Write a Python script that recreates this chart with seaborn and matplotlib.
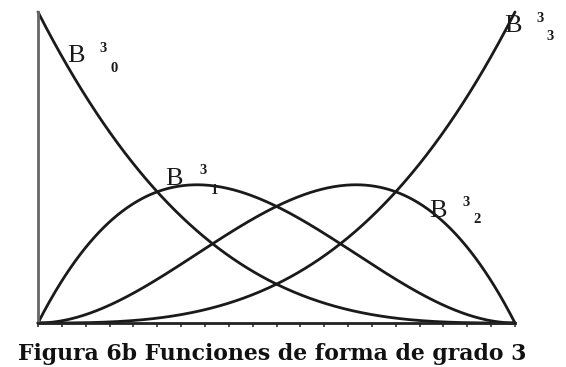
import numpy as np
import pandas as pd
import seaborn as sns
import matplotlib
matplotlib.use("Agg")
import matplotlib.pyplot as plt

# Cubic Bernstein basis, written as power-basis coefficients (constant term first)
b30_coef = [1, -3, 3, -1]   # (1-t)^3
b31_coef = [0, 3, -6, 3]    # 3t(1-t)^2
b32_coef = [0, 0, 3, -3]    # 3t^2(1-t)
b33_coef = [0, 0, 0, 1]     # t^3
curve_names = ["B30", "B31", "B32", "B33"]
curve_coefs = [b30_coef, b31_coef, b32_coef, b33_coef]

caption = "Figura 6b Funciones de forma de grado 3"
tick_step = 0.05

t = np.linspace(0.0, 1.0, 401)
frames = []
for name, coef in zip(curve_names, curve_coefs):
    frames.append(pd.DataFrame({"t": t,
                                "B": np.polynomial.polynomial.polyval(t, coef),
                                "curve": name}))
df = pd.concat(frames, ignore_index=True)

sns.set_theme(style="white")
W, H = 566, 367
fig = plt.figure(figsize=(W / 100, H / 100), dpi=100)
ax = fig.add_axes([38 / W, (H - 323) / H, 477 / W, 311 / H])

sns.lineplot(data=df, x="t", y="B", units="curve", estimator=None,
             color="#1a1a1a", linewidth=2.0, ax=ax, legend=False, clip_on=False)

ax.set_xlim(0, 1)
ax.set_ylim(0, 1)
ax.set_xlabel("")
ax.set_ylabel("")
for side in ("top", "right"):
    ax.spines[side].set_visible(False)
ax.spines["left"].set_color("#666666")
ax.spines["left"].set_linewidth(2.0)
ax.spines["bottom"].set_color("#222222")
ax.spines["bottom"].set_linewidth(2.0)
ax.set_xticks(np.arange(0, 1.0001, tick_step))
ax.set_xticklabels([])
ax.set_yticks([])
ax.tick_params(axis="x", direction="out", length=3, width=1.2,
               color="#333333", bottom=True)

serif = ["Liberation Serif", "DejaVu Serif"]


def label(x_b, base_b, x_sup, y_sup, sub, x_sub, y_sub):
    fig.text(x_b / W, 1 - base_b / H, "B", family=serif, fontsize=19,
             color="#1a1a1a", ha="left", va="baseline")
    fig.text(x_sup / W, 1 - y_sup / H, "3", family=serif, fontsize=10.5,
             fontweight="bold", color="#1a1a1a", ha="center", va="center")
    fig.text(x_sub / W, 1 - y_sub / H, sub, family=serif, fontsize=10.5,
             fontweight="bold", color="#1a1a1a", ha="center", va="center")


label(67, 62, 103, 49, "0", 114, 68)
label(165, 185, 203, 171, "1", 214, 191)
label(429, 217, 466, 202, "2", 477, 219)
label(504, 32, 540, 18, "3", 550, 37)

fig.text(272 / W, 1 - 360 / H, caption, family=["DejaVu Serif"],
         fontsize=15.8, fontweight="bold", color="#111111",
         ha="center", va="baseline")

fig.savefig("out.png", dpi=100, facecolor="white")
